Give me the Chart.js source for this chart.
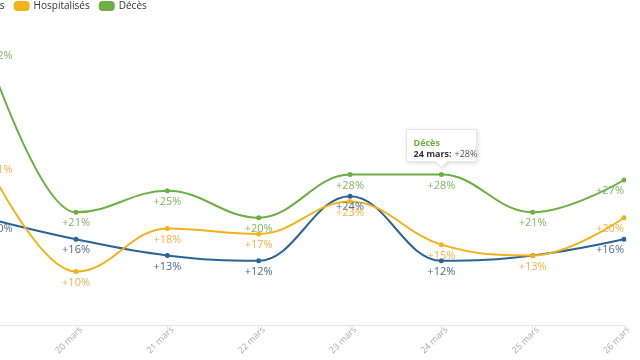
<!DOCTYPE html>
<html><head><meta charset="utf-8">
<script src="https://cdn.jsdelivr.net/npm/chart.js@4.4.1/dist/chart.umd.min.js"></script>
<style>
html,body{margin:0;padding:0;background:#fff;}
#frame{position:relative;width:640px;height:360px;overflow:hidden;background:#fff;}
#box{position:absolute;left:-41px;top:-9px;width:670px;height:369px;}
</style></head><body>
<div id="frame"><div id="box"><canvas id="c"></canvas></div></div>
<script>
const categories = ['19 mars','20 mars','21 mars','22 mars','23 mars','24 mars','25 mars','26 mars'];
const casValues = [20, 16, 13, 12, 24, 12, 13, 16];
const hospValues = [31, 10, 18, 17, 23, 15, 13, 20];
const decesValues = [52, 21, 25, 20, 28, 28, 21, 27];
const seriesNames = ['Cas', 'Hospitalisés', 'Décès'];
const yMin = 0, yMax = 56.5;
const tooltipSeries = 2, tooltipIndex = 5;

const lineColors = ['#2a6496', '#f3b21a', '#6cb043'];
const labelColors = ['#4a6d8f', '#f0b246', '#7fb55f'];

const hcSpline = {
  id: 'hcSpline',
  beforeDatasetDraw(chart, args) {
    const meta = args.meta;
    const line = meta.dataset;
    if (!line) return;
    line.updateControlPoints(chart.chartArea, 'x');
    const pts = meta.data;
    const s = 1.5, d = s + 1;
    for (const p of pts) { p.cp1x = p.x; p.cp1y = p.y; p.cp2x = p.x; p.cp2y = p.y; }
    for (let i = 1; i < pts.length - 1; i++) {
      const p = pts[i], a = pts[i - 1], b = pts[i + 1];
      let lx = (s * p.x + a.x) / d, ly = (s * p.y + a.y) / d;
      let rx = (s * p.x + b.x) / d, ry = (s * p.y + b.y) / d;
      let corr = 0;
      if (rx !== lx) corr = ((ry - ly) * (rx - p.x)) / (rx - lx) + p.y - ry;
      ly += corr; ry += corr;
      if (ly > a.y && ly > p.y) { ly = Math.max(a.y, p.y); ry = 2 * p.y - ly; }
      else if (ly < a.y && ly < p.y) { ly = Math.min(a.y, p.y); ry = 2 * p.y - ly; }
      if (ry > b.y && ry > p.y) { ry = Math.max(b.y, p.y); ly = 2 * p.y - ry; }
      else if (ry < b.y && ry < p.y) { ry = Math.min(b.y, p.y); ly = 2 * p.y - ry; }
      p.cp1x = lx; p.cp1y = ly; p.cp2x = rx; p.cp2y = ry;
    }
    line._path = undefined;
  }
};

const valueLabels = {
  id: 'valueLabels',
  afterDatasetsDraw(chart) {
    const ctx = chart.ctx, area = chart.chartArea;
    ctx.save();
    ctx.font = '11px "Open Sans"';
    ctx.textAlign = 'center';
    ctx.textBaseline = 'middle';
    const items = [];
    chart.data.datasets.forEach((ds, di) => {
      const meta = chart.getDatasetMeta(di);
      meta.data.forEach((pt, i) => {
        const txt = '+' + ds.data[i] + '%';
        const w = ctx.measureText(txt).width;
        let x = pt.x;
        if (x - w / 2 < area.left) x = area.left + w / 2;
        if (x + w / 2 > area.right) x = area.right - w / 2;
        items.push({ di, i, txt, x, y: pt.y + 11 });
      });
    });
    // hide labels fully covered by a later series' label (as the reference does)
    items.forEach(it => {
      it.hidden = items.some(o => o.di > it.di && o.i === it.i &&
        Math.abs(o.x - it.x) < 4 && Math.abs(o.y - it.y) < 3);
    });
    items.forEach(it => {
      if (it.hidden) return;
      ctx.fillStyle = labelColors[it.di];
      ctx.fillText(it.txt, it.x, it.y);
    });
    ctx.restore();
  }
};

const staticTooltip = {
  id: 'staticTooltip',
  afterDraw(chart) {
    const pt = chart.getDatasetMeta(tooltipSeries).data[tooltipIndex];
    const ctx = chart.ctx;
    const w = 70, h = 32;
    const x0 = Math.round(pt.x - w / 2) + 0.5;
    const y1 = Math.round(pt.y - 14) + 0.5;
    const y0 = y1 - h;
    const cx = Math.round(pt.x) + 0.5;
    ctx.save();
    ctx.beginPath();
    ctx.moveTo(x0, y0); ctx.lineTo(x0 + w, y0); ctx.lineTo(x0 + w, y1);
    ctx.lineTo(cx + 6, y1); ctx.lineTo(cx, y1 + 6); ctx.lineTo(cx - 6, y1);
    ctx.lineTo(x0, y1); ctx.closePath();
    ctx.shadowColor = 'rgba(0,0,0,0.18)'; ctx.shadowBlur = 4;
    ctx.shadowOffsetX = 1; ctx.shadowOffsetY = 1;
    ctx.fillStyle = '#fff'; ctx.fill();
    ctx.shadowColor = 'rgba(0,0,0,0)';
    ctx.strokeStyle = '#e6e6e6'; ctx.lineWidth = 1; ctx.stroke();
    ctx.textAlign = 'left'; ctx.textBaseline = 'middle';
    ctx.font = 'bold 9px "Open Sans"';
    ctx.fillStyle = lineColors[tooltipSeries];
    ctx.fillText(seriesNames[tooltipSeries], x0 + 7, y0 + 13.5);
    ctx.fillStyle = '#333';
    const t1 = categories[tooltipIndex] + ':';
    ctx.fillText(t1, x0 + 7, y0 + 25);
    const w1 = ctx.measureText(t1).width + 3;
    ctx.font = '9px "Open Sans"';
    ctx.fillStyle = '#555';
    ctx.fillText('+' + decesValues[tooltipIndex] + '%', x0 + 7 + w1, y0 + 25);
    ctx.restore();
  }
};

const seriesValues = [casValues, hospValues, decesValues];
const datasets = seriesNames.map((name, i) => ({
  label: name,
  data: seriesValues[i],
  borderColor: lineColors[i],
  backgroundColor: lineColors[i],
  pointBackgroundColor: lineColors[i],
  pointBorderColor: lineColors[i],
  order: 3 - i
}));

new Chart(document.getElementById('c'), {
  type: 'line',
  data: { labels: categories, datasets },
  options: {
    responsive: true, maintainAspectRatio: false, animation: false,
    devicePixelRatio: 1,
    events: [],
    layout: { padding: { left: 0, right: 5, top: 0, bottom: 0 } },
    elements: {
      line: { tension: 0.4, borderWidth: 2, fill: false },
      point: { radius: 2.5, borderWidth: 0, hoverRadius: 2.5 }
    },
    plugins: {
      legend: {
        align: 'start',
        labels: {
          boxWidth: 14, boxHeight: 8, padding: 10, color: '#333',
          font: { family: 'Open Sans', size: 10 },
          useBorderRadius: true, borderRadius: 3,
          sort: (a, b) => a.datasetIndex - b.datasetIndex
        }
      },
      tooltip: { enabled: false }
    },
    scales: {
      x: {
        offset: false,
        grid: { display: true, drawOnChartArea: false, drawTicks: true, tickLength: 4, color: '#e6e6e6' },
        border: { color: '#e6e6e6' },
        ticks: { autoSkip: false, minRotation: 45, maxRotation: 45, color: '#aaa', font: { family: 'Open Sans', size: 9 }, padding: -5, labelOffset: 5 },
        afterFit: s => { s.height = 34.5; s.paddingLeft = 0; s.paddingRight = 0; }
      },
      y: {
        min: yMin, max: yMax, display: true,
        grid: { display: false }, border: { display: false }, ticks: { display: false },
        afterFit: s => { s.width = 25.7; s.paddingTop = 0; s.paddingBottom = 0; }
      }
    }
  },
  plugins: [hcSpline, valueLabels, staticTooltip]
});
</script>
</body></html>
